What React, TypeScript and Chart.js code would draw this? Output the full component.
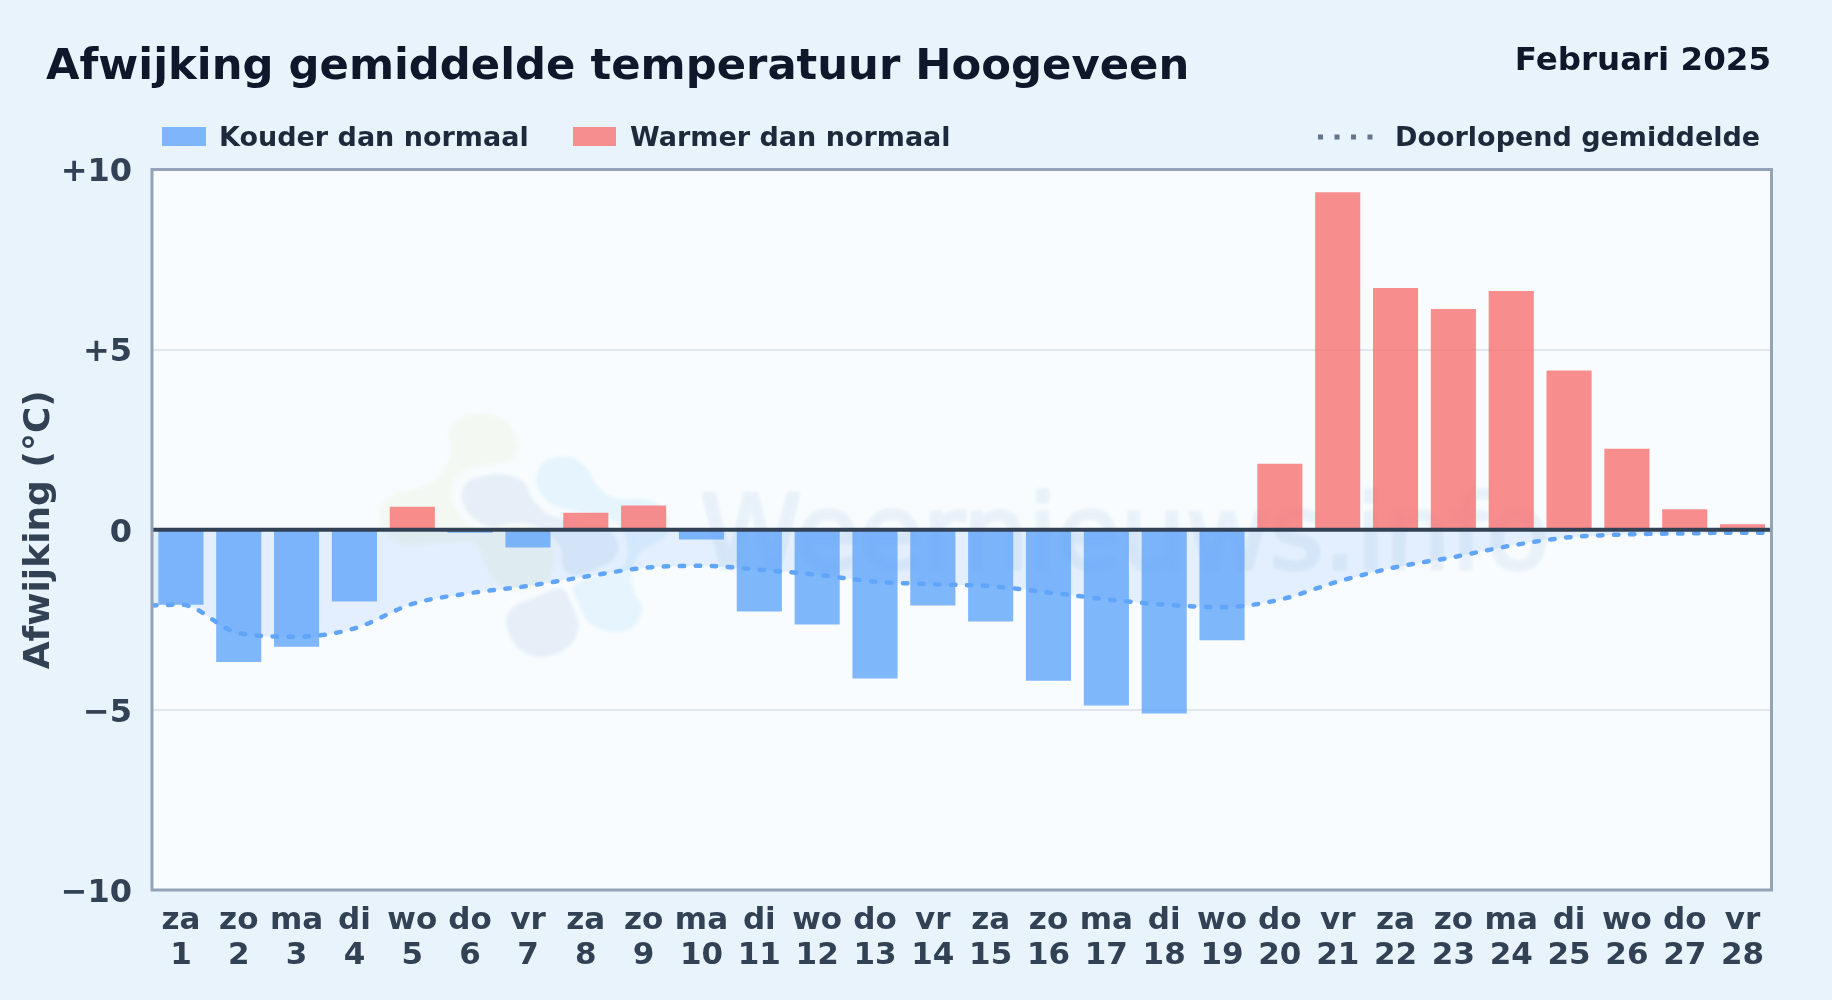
import React, { useEffect, useRef } from "react";
import { Chart, registerables } from "chart.js";

Chart.register(...registerables);

const weekdays = ["za","zo","ma","di","wo","do","vr","za","zo","ma","di","wo","do","vr","za","zo","ma","di","wo","do","vr","za","zo","ma","di","wo","do","vr"];
const dayNumbers = ["1","2","3","4","5","6","7","8","9","10","11","12","13","14","15","16","17","18","19","20","21","22","23","24","25","26","27","28"];
const deviations = [-2.08,-3.67,-3.25,-1.99,0.64,-0.08,-0.49,0.47,0.67,-0.27,-2.27,-2.63,-4.13,-2.10,-2.55,-4.19,-4.88,-5.10,-3.07,1.83,9.37,6.71,6.13,6.63,4.42,2.25,0.57,0.15];
const averageDays = [0.5,1,2,3,4,5,6,7,8,9,10,11,12,13,14,15,16,17,18,19,20,21,22,23,24,25,26,27,28,28.5];
const runningAverage = [-2.1,-2.08,-2.87,-2.97,-2.74,-2.06,-1.76,-1.56,-1.30,-1.06,-1.0,-1.11,-1.25,-1.44,-1.51,-1.57,-1.74,-1.93,-2.08,-2.15,-1.94,-1.44,-1.04,-0.76,-0.44,-0.21,-0.13,-0.10,-0.08,-0.08];
const yTickLabels: Record<string, string> = { "10": "+10", "5": "+5", "0": "0", "-5": "\u22125", "-10": "\u221210" };

const titleText = "Afwijking gemiddelde temperatuur Hoogeveen";
const periodText = "Februari 2025";
const coldLabel = "Kouder dan normaal";
const warmLabel = "Warmer dan normaal";
const averageLabel = "Doorlopend gemiddelde";
const axisTitle = "Afwijking (\u00b0C)";
const watermarkText = "Weernieuws.info";

const FONT = '"DejaVu Sans", sans-serif';
const BLUE = "rgba(96,165,250,0.8)";
const RED = "rgba(248,113,113,0.8)";

const blobGreen = [[265,100],[300,55],[370,40],[440,65],[472,130],[455,180],[390,195],[310,215],[275,270],[290,330],[350,385],[440,375],[520,380],[580,440],[575,520],[530,565],[470,575],[410,550],[370,480],[340,430],[240,430],[130,435],[70,395],[60,330],[100,285],[200,255],[262,190],[272,140]];
const blobSlateUpper = [[305,290],[330,240],[420,222],[490,245],[520,300],[570,345],[650,360],[740,385],[775,440],[745,490],[650,525],[610,500],[600,440],[540,385],[470,370],[390,380],[330,345]];
const blobSlateLower = [[440,680],[455,625],[530,590],[600,565],[630,600],[655,680],[625,740],[550,770],[480,750]];
const blobBlue = [[530,225],[560,180],[630,172],[680,205],[715,260],[770,295],[870,300],[925,350],[915,410],[850,450],[815,510],[820,570],[845,625],[820,680],[760,695],[690,670],[655,610],[640,560],[700,530],[790,500],[800,430],[770,370],[680,340],[590,320],[540,280]];

function blob(ctx: CanvasRenderingContext2D, pts: number[][], color: string) {
  const p = pts.map(([x, y]) => [360 + x / 3, 400 + y / 3]);
  const n = p.length;
  ctx.beginPath();
  ctx.moveTo(p[0][0], p[0][1]);
  for (let i = 0; i < n; i++) {
    const a = p[(i - 1 + n) % n], b = p[i], c = p[(i + 1) % n], d = p[(i + 2) % n];
    ctx.bezierCurveTo(b[0] + (c[0] - a[0]) / 6, b[1] + (c[1] - a[1]) / 6, c[0] - (d[0] - b[0]) / 6, c[1] - (d[1] - b[1]) / 6, c[0], c[1]);
  }
  ctx.closePath();
  ctx.fillStyle = color;
  ctx.fill();
}

const decorations = {
  id: "decorations",
  beforeDraw(chart: any) {
    const { ctx, chartArea: a } = chart;
    ctx.save();
    ctx.fillStyle = "#e8f3fc";
    ctx.fillRect(0, 0, chart.width, chart.height);
    ctx.fillStyle = "#f8fcff";
    ctx.fillRect(a.left, a.top, a.right - a.left, a.bottom - a.top);
    ctx.filter = "blur(1.5px)";
    blob(ctx, blobBlue, "#e6f4fe");
    blob(ctx, blobGreen, "#f3f9f2");
    blob(ctx, blobSlateUpper, "#e6eff8");
    blob(ctx, blobSlateLower, "#e6eff8");
    ctx.font = `103px ${FONT}`;
    ctx.textAlign = "left";
    ctx.textBaseline = "alphabetic";
    ctx.fillStyle = "#e8f1f9";
    ctx.strokeStyle = "#e8f1f9";
    ctx.lineWidth = 3;
    ctx.lineJoin = "round";
    ctx.fillText(watermarkText, 700, 569);
    ctx.strokeText(watermarkText, 700, 569);
    ctx.restore();
  },
  afterDatasetsDraw(chart: any) {
    const { ctx, chartArea: a, scales } = chart;
    const zero = scales.y.getPixelForValue(0);
    ctx.save();
    ctx.strokeStyle = "#334155";
    ctx.lineWidth = 4;
    ctx.beginPath();
    ctx.moveTo(a.left, zero);
    ctx.lineTo(a.right, zero);
    ctx.stroke();
    ctx.strokeStyle = "#94a3b8";
    ctx.lineWidth = 3;
    ctx.strokeRect(a.left, a.top, a.right - a.left, a.bottom - a.top);
    ctx.textBaseline = "alphabetic";
    ctx.textAlign = "left";
    ctx.fillStyle = "#0f172a";
    ctx.font = `bold 43.3px ${FONT}`;
    ctx.fillText(titleText, 46, 79);
    ctx.textAlign = "right";
    ctx.font = `bold 32.5px ${FONT}`;
    ctx.fillText(periodText, 1771, 70);
    ctx.textAlign = "left";
    ctx.font = `bold 27px ${FONT}`;
    ctx.fillStyle = "#1e293b";
    ctx.fillText(coldLabel, 219, 146);
    ctx.fillText(warmLabel, 630, 146);
    ctx.fillText(averageLabel, 1395, 146);
    ctx.fillStyle = "#7fb6fb";
    ctx.fillRect(162, 127, 44, 19);
    ctx.fillStyle = "#f68e90";
    ctx.fillRect(573, 127, 43, 19);
    ctx.strokeStyle = "#64748b";
    ctx.lineWidth = 5;
    ctx.setLineDash([5, 11.5]);
    ctx.beginPath();
    ctx.moveTo(1318, 137);
    ctx.lineTo(1373, 137);
    ctx.stroke();
    ctx.restore();
  },
};

export default function App() {
  const ref = useRef<HTMLCanvasElement>(null);
  useEffect(() => {
    const chart = new Chart(ref.current!, {
      type: "bar",
      data: {
        labels: weekdays.map((d, i) => [d, dayNumbers[i]]),
        datasets: [
          {
            type: "line",
            label: averageLabel,
            data: averageDays.map((x, i) => ({ x, y: runningAverage[i] })),
            xAxisID: "x2",
            borderColor: "#60a5fa",
            borderWidth: 4.5,
            borderDash: [4.5, 11.5],
            borderCapStyle: "round",
            pointRadius: 0,
            tension: 0.4,
            cubicInterpolationMode: "monotone",
            fill: { target: "origin", above: "rgba(96,165,250,0.14)", below: "rgba(96,165,250,0.14)" },
            order: 0,
          },
          {
            type: "bar",
            label: "Afwijking",
            data: deviations,
            backgroundColor: deviations.map((v) => (v < 0 ? BLUE : RED)),
            borderWidth: 0,
            grouped: false,
            barPercentage: 0.78,
            categoryPercentage: 1,
            order: 1,
          },
        ],
      } as any,
      options: {
        responsive: false,
        animation: false,
        devicePixelRatio: 1,
        layout: { padding: { top: 169.5, right: 60.5, left: 0, bottom: 0 } },
        plugins: { legend: { display: false }, title: { display: false }, tooltip: { enabled: false } },
        scales: {
          x: {
            type: "category",
            offset: true,
            afterFit: (s: any) => { s.height = 110; },
            grid: { display: false, drawTicks: false },
            border: { display: false },
            ticks: { autoSkip: false, maxRotation: 0, padding: 14, color: "#334155", font: { family: FONT, weight: "bold", size: 31, lineHeight: 1.12 } },
          },
          x2: { type: "linear", display: false, offset: false, min: 0.5, max: 28.5 },
          y: {
            min: -10,
            max: 10,
            afterFit: (s: any) => { s.width = 152; },
            grid: {
              drawTicks: false,
              lineWidth: 2,
              color: (c: any) => (Math.abs(c.tick.value) === 5 ? "#dfe6ee" : "rgba(0,0,0,0)"),
            },
            border: { display: false },
            title: { display: true, text: axisTitle, color: "#334155", padding: { top: 18, bottom: 0 }, font: { family: FONT, weight: "bold", size: 36 } },
            ticks: {
              stepSize: 5,
              padding: 20,
              color: "#334155",
              font: { family: FONT, weight: "bold", size: 32, lineHeight: 7 / 32 },
              callback: (v: any) => ["", yTickLabels[String(v)] ?? String(v)],
            },
          },
        },
      } as any,
      plugins: [decorations],
    } as any);
    return () => chart.destroy();
  }, []);
  return (
    <div style={{ position: "absolute", left: 0, top: 0, width: 1832, height: 1000 }}>
      <canvas ref={ref} width={1832} height={1000} style={{ display: "block" }} />
    </div>
  );
}
